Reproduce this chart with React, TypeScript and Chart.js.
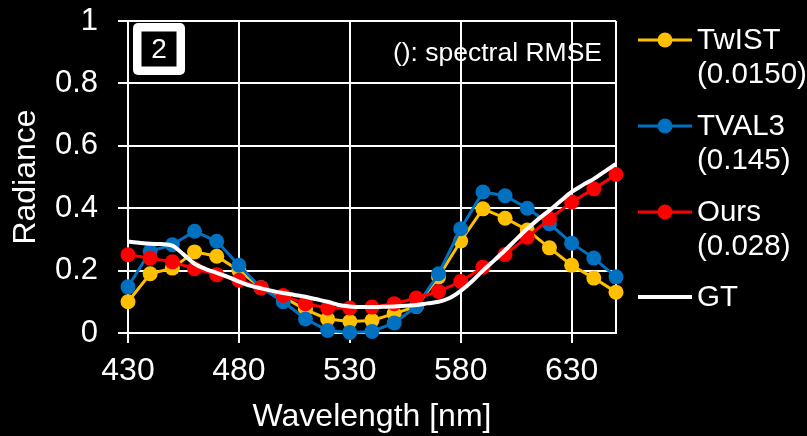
import React, { useEffect, useRef } from "react";
import { Chart, registerables } from "chart.js";

Chart.register(...registerables);

const wavelengths = [430, 440, 450, 460, 470, 480, 490, 500, 510, 520, 530, 540, 550, 560, 570, 580, 590, 600, 610, 620, 630, 640, 650];
const twist = [0.10, 0.19, 0.208, 0.26, 0.246, 0.20, 0.145, 0.115, 0.075, 0.045, 0.037, 0.04, 0.062, 0.085, 0.18, 0.295, 0.398, 0.368, 0.33, 0.273, 0.217, 0.176, 0.131];
const tval3 = [0.148, 0.262, 0.283, 0.326, 0.294, 0.217, 0.145, 0.10, 0.045, 0.008, 0.002, 0.005, 0.032, 0.085, 0.19, 0.334, 0.452, 0.44, 0.40, 0.35, 0.288, 0.24, 0.18];
const ours = [0.251, 0.24, 0.228, 0.206, 0.187, 0.169, 0.145, 0.12, 0.094, 0.08, 0.08, 0.083, 0.094, 0.112, 0.133, 0.165, 0.211, 0.252, 0.307, 0.366, 0.42, 0.462, 0.508];

const gtWavelengths = [430, 435, 440, 445, 450, 455, 460, 465, 470, 475, 480, 485, 490, 495, 500, 505, 510, 515, 520, 525, 530, 535, 540, 545, 550, 555, 560, 565, 570, 575, 580, 585, 590, 595, 600, 605, 610, 615, 620, 625, 630, 635, 640, 645, 650];
const gt = [0.293, 0.289, 0.286, 0.285, 0.28, 0.252, 0.222, 0.205, 0.193, 0.18, 0.165, 0.152, 0.143, 0.135, 0.128, 0.122, 0.116, 0.108, 0.10, 0.09, 0.085, 0.083, 0.083, 0.084, 0.085, 0.087, 0.09, 0.095, 0.10, 0.112, 0.135, 0.165, 0.2, 0.232, 0.265, 0.3, 0.334, 0.365, 0.393, 0.423, 0.452, 0.474, 0.494, 0.518, 0.542];

const xTicks = [430, 480, 530, 580, 630, 650];
const yMin = 0;
const yMax = 1;
const yStep = 0.2;

const seriesNames = ["TwIST", "TVAL3", "Ours", "GT"];
const seriesRmse = ["(0.0150)", "(0.145)", "(0.028)", ""];
const seriesColors = ["#FFC000", "#0070C0", "#FF0000", "#FFFFFF"];
const panelLabel = "2";
const noteText = "(): spectral RMSE";
const xTitle = "Wavelength [nm]";
const yTitle = "Radiance";

const FONT = "'Liberation Sans', Arial, sans-serif";

const overlayPlugin = {
  id: "overlay",
  afterDraw(chart: any) {
    const ctx = chart.ctx as CanvasRenderingContext2D;
    ctx.save();
    // panel label box
    const bx = 133, by = 23, bw = 52, bh = 52;
    ctx.fillStyle = "#FFFFFF";
    ctx.beginPath();
    (ctx as any).roundRect(bx, by, bw, bh, 5);
    ctx.fill();
    ctx.fillStyle = "#000000";
    ctx.fillRect(bx + 8.5, by + 8.5, bw - 17, bh - 17);
    ctx.fillStyle = "#FFFFFF";
    ctx.font = `28px ${FONT}`;
    ctx.textAlign = "center";
    ctx.textBaseline = "middle";
    ctx.fillText(panelLabel, bx + bw / 2, by + bh / 2 + 1);

    // note
    ctx.font = `26.5px ${FONT}`;
    ctx.textAlign = "right";
    ctx.fillText(noteText, 602, 54);

    // legend
    const lx0 = 638, lx1 = 692, tx = 697;
    const rowY = [40, 126, 212, 297];
    ctx.font = `29.5px ${FONT}`;
    ctx.textAlign = "left";
    seriesNames.forEach((name, i) => {
      const y = rowY[i];
      ctx.strokeStyle = seriesColors[i];
      ctx.lineWidth = i === 3 ? 4 : 3;
      ctx.beginPath();
      ctx.moveTo(lx0, y);
      ctx.lineTo(lx1, y);
      ctx.stroke();
      if (i < 3) {
        ctx.fillStyle = seriesColors[i];
        ctx.beginPath();
        ctx.arc((lx0 + lx1) / 2, y, 7.5, 0, Math.PI * 2);
        ctx.fill();
      }
      ctx.fillStyle = "#FFFFFF";
      ctx.fillText(name, tx, y + 1);
      if (seriesRmse[i]) ctx.fillText(seriesRmse[i], tx, y + 35);
    });
    ctx.restore();
  },
};

export default function App() {
  const canvasRef = useRef<HTMLCanvasElement | null>(null);

  useEffect(() => {
    if (!canvasRef.current) return;
    const mk = (xs: number[], ys: number[]) => xs.map((x, i) => ({ x, y: ys[i] }));
    const seriesData = [twist, tval3, ours];
    const datasets: any[] = seriesData.map((d, i) => ({
      label: seriesNames[i],
      data: mk(wavelengths, d),
      borderColor: seriesColors[i],
      backgroundColor: seriesColors[i],
      borderWidth: 3,
      pointRadius: 7.5,
      pointBorderWidth: 0,
      pointBackgroundColor: seriesColors[i],
      tension: 0,
      clip: false,
      order: 3 - i,
    }));
    datasets.push({
      label: seriesNames[3],
      data: mk(gtWavelengths, gt),
      borderColor: seriesColors[3],
      backgroundColor: seriesColors[3],
      borderWidth: 4,
      pointRadius: 0,
      cubicInterpolationMode: "monotone",
      clip: false,
      order: 0,
    });

    const chart = new Chart(canvasRef.current, {
      type: "line",
      data: { datasets },
      options: {
        animation: false,
        responsive: false,
        maintainAspectRatio: false,
        layout: { padding: { top: 21, right: 191, left: 0, bottom: 0 } },
        plugins: { legend: { display: false }, tooltip: { enabled: false } },
        scales: {
          x: {
            type: "linear",
            min: 430,
            max: 650,
            afterBuildTicks: (scale: any) => {
              scale.ticks = xTicks.map((v) => ({ value: v }));
            },
            afterFit: (scale: any) => {
              scale.height = 103;
              scale.paddingLeft = 0;
              scale.paddingRight = 0;
            },
            grid: {
              color: "#FFFFFF",
              lineWidth: 2,
              tickLength: 10,
              tickColor: (c: any) => (c.tick && c.tick.value === 650 ? "rgba(0,0,0,0)" : "#FFFFFF"),
            },
            border: { color: "#FFFFFF", width: 2 },
            ticks: {
              color: "#FFFFFF",
              font: { family: FONT, size: 32 },
              padding: 9,
              maxRotation: 0,
              autoSkip: false,
              callback: (v: any) => (v === 650 ? "" : String(v)),
            },
            title: {
              display: true,
              text: xTitle,
              color: "#FFFFFF",
              font: { family: FONT, size: 32 },
              padding: { top: 0, bottom: 0 },
            },
          },
          y: {
            min: yMin,
            max: yMax,
            afterFit: (scale: any) => {
              scale.width = 128;
              scale.paddingTop = 0;
              scale.paddingBottom = 0;
            },
            grid: { color: "#FFFFFF", lineWidth: 2, tickLength: 10, tickColor: "#FFFFFF" },
            border: { color: "#FFFFFF", width: 2 },
            ticks: {
              stepSize: yStep,
              color: "#FFFFFF",
              font: { family: FONT, size: 31 },
              padding: 20,
              callback: (v: any) => String(Math.round(v * 10) / 10),
            },
            title: {
              display: true,
              text: yTitle,
              color: "#FFFFFF",
              font: { family: FONT, size: 32 },
              padding: { top: 7, bottom: 0 },
            },
          },
        },
      } as any,
      plugins: [overlayPlugin],
    });
    return () => chart.destroy();
  }, []);

  return (
    <div style={{ position: "fixed", left: 0, top: 0, width: 807, height: 436, background: "#000000" }}>
      <canvas ref={canvasRef} width={807} height={436} style={{ width: 807, height: 436, display: "block" }} />
    </div>
  );
}
